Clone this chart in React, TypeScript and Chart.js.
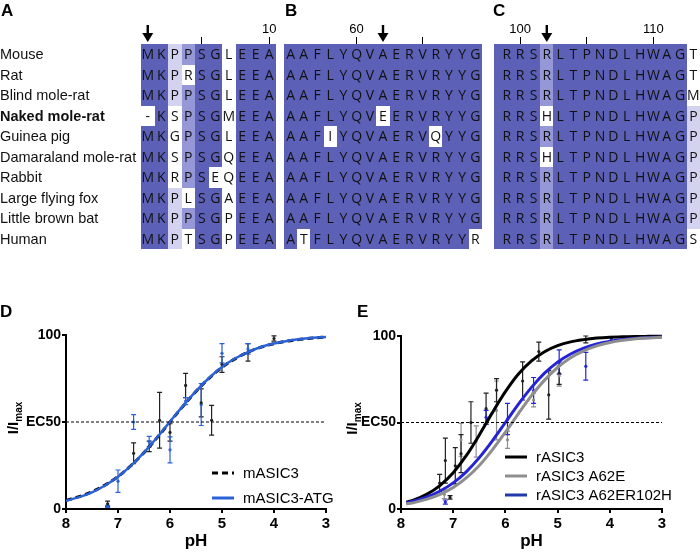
import React, { useEffect, useRef } from "react";
import { Chart, registerables } from "chart.js";
Chart.register(...registerables);

const SANS = '"Liberation Sans", Arial, Helvetica, sans-serif';
const SEQ = '"Open Sans", "Liberation Sans", sans-serif';

const DARK = "#5c60b6";
const MED = "#9597d6";
const LIGHT = "#d3d3ef";

// ---------- Alignment data ----------
const species = [
  "Mouse", "Rat", "Blind mole-rat", "Naked mole-rat", "Guinea pig",
  "Damaraland mole-rat", "Rabbit", "Large flying fox", "Little brown bat", "Human",
];
const boldSpecies = ["Naked mole-rat"];

const startA = 1;
const seqA = ["MKPPSGLEEA", "MKPRSGLEEA", "MKPPSGLEEA", "-KSPSGMEEA", "MKGPSGLEEA", "MKSPSGQEEA", "MKRPSEQEEA", "MKPLSGAEEA", "MKPPSGPEEA", "MKPTSGPEEA"];
const shadeA = ["DDLMDDWDDD", "DDLWDDWDDD", "DDLMDDWDDD", "WDWMDDWDDD", "DDWMDDWDDD", "DDWMDDWDDD", "DDWMDWWDDD", "DDLWDDWDDD", "DDLMDDWDDD", "DDLWDDWDDD"];
const ticksA = [5, 10];
const tickLabelsA = [10];
const arrowA = 1;

const startB = 55;
const seqB = ["AAFLYQVAERVRYYG", "AAFLYQVAERVRYYG", "AAFLYQVAERVRYYG", "AAFLYQVEERVRYYG", "AAFIYQVAERVQYYG", "AAFLYQVAERVRYYG", "AAFLYQVAERVRYYG", "AAFLYQVAERVRYYG", "AAFLYQVAERVRYYG", "ATFLYQVAERVRYYR"];
const shadeB = ["DDDDDDDDDDDDDDD", "DDDDDDDDDDDDDDD", "DDDDDDDDDDDDDDD", "DDDDDDDWDDDDDDD", "DDDWDDDDDDDWDDD", "DDDDDDDDDDDDDDD", "DDDDDDDDDDDDDDD", "DDDDDDDDDDDDDDD", "DDDDDDDDDDDDDDD", "DWDDDDDDDDDDDDW"];
const ticksB = [60, 65];
const tickLabelsB = [60];
const arrowB = 62;

const startC = 99;
const seqC = ["RRSRLTPNDLHWAGT", "RRSRLTPNDLHWAGT", "RRSRLTPNDLHWAGM", "RRSHLTPNDLHWAGP", "RRSRLTPNDLHWAGP", "RRSHLTPNDLHWAGP", "RRSRLTPNDLHWAGP", "RRSRLTPNDLHWAGP", "RRSRLTPNDLHWAGP", "RRSRLTPNDLHWAGS"];
const shadeC = ["DDDMDDDDDDDDDDW", "DDDMDDDDDDDDDDW", "DDDMDDDDDDDDDDW", "DDDWDDDDDDDDDDL", "DDDMDDDDDDDDDDL", "DDDWDDDDDDDDDDL", "DDDMDDDDDDDDDDL", "DDDMDDDDDDDDDDL", "DDDMDDDDDDDDDDL", "DDDMDDDDDDDDDDW"];
const ticksC = [100, 105, 110];
const tickLabelsC = [100, 110];
const arrowC = 102;

// ---------- Dose-response data ----------
const phTicks = [8, 7, 6, 5, 4, 3];
const yTicks = [0, 50, 100];
const yTickLabels = ["0", "EC50", "100"];
const ec50 = 50;

// Panel D fitted curves
const phGridD = [8, 7.75, 7.5, 7.25, 7, 6.75, 6.5, 6.25, 6, 5.75, 5.5, 5.25, 5, 4.75, 4.5, 4.25, 4, 3.75, 3.5, 3.25, 3];
const fitMASIC3 = [5.0, 7.1, 9.9, 13.7, 18.6, 24.9, 32.4, 40.9, 50.0, 59.1, 67.6, 75.1, 81.4, 86.3, 90.1, 93.0, 95.0, 96.5, 97.5, 98.3, 98.8];
const fitMASIC3ATG = [4.7, 6.8, 9.6, 13.5, 18.5, 24.9, 32.5, 41.1, 50.2, 59.3, 67.8, 75.3, 81.6, 86.5, 90.2, 93.1, 95.1, 96.6, 97.6, 98.4, 98.9];

// Panel D measured points (mean ± error)
const phMASIC3 = [7.2, 6.7, 6.4, 6.2, 6.0, 5.7, 5.4, 5.2, 5.0, 4.5, 4.0];
const meanMASIC3 = [3, 32, 36, 51, 44, 71, 61, 51, 83, 90, 98];
const errMASIC3 = [1.5, 6, 3, 16, 5, 7, 8, 8.5, 4.5, 5, 1.5];
const phMASIC3ATG = [7.2, 7.0, 6.7, 6.4, 6.0, 5.7, 5.4, 5.0, 4.5];
const meanMASIC3ATG = [1.5, 16, 50, 38.7, 34, 62, 60, 89.5, 92];
const errMASIC3ATG = [0.6, 6.4, 4.2, 3, 7.5, 2, 12, 5.5, 3];

// Panel E fitted curves
const phGridE = [7.9, 7.75, 7.5, 7.25, 7, 6.75, 6.5, 6.25, 6, 5.75, 5.5, 5.25, 5, 4.75, 4.5, 4.25, 4, 3.75, 3.5, 3.25, 3];
const fitRASIC3 = [4.0, 5.3, 8.6, 13.7, 21.0, 30.8, 42.8, 55.7, 67.8, 78.0, 85.6, 90.9, 94.4, 96.6, 97.9, 98.8, 99.3, 99.5, 99.7, 99.8, 99.9];
const fitA62E = [2.9, 3.7, 5.7, 8.4, 12.4, 18.0, 25.2, 34.2, 44.4, 55.2, 65.5, 74.5, 81.8, 87.4, 91.4, 94.3, 96.2, 97.5, 98.4, 98.9, 99.3];
const fitA62ER102H = [3.6, 4.6, 7.0, 10.4, 15.1, 21.5, 29.7, 39.4, 50.0, 60.6, 70.3, 78.5, 84.9, 89.6, 93.0, 95.4, 96.9, 98.0, 98.7, 99.1, 99.4];

// Panel E measured points
const phRASIC3 = [7.26, 7.15, 7.06, 6.96, 6.85, 6.66, 6.37, 6.17, 5.67, 5.36, 5.17, 4.97, 4.46];
const meanRASIC3 = [15, 28, 6.7, 25, 32, 50, 58, 68.7, 74, 91, 66, 78.5, 98];
const errRASIC3 = [5, 13, 1, 10.5, 11, 12, 9, 6.7, 11, 5.5, 14, 6.5, 2];
const phA62E = [7.17, 6.85, 6.56, 6.17, 5.96, 5.46, 4.97];
const meanA62E = [8.5, 40, 39, 57, 40, 63, 77];
const errA62E = [2.5, 9.5, 9, 17, 5, 4, 6];
const phA62ER102H = [7.15, 6.37, 5.96, 5.46, 4.97, 4.46, 3.97];
const meanA62ER102H = [4, 53, 52, 68.5, 85, 82.5, 98.5];
const errA62ER102H = [1.2, 4, 9, 7.5, 7, 8, 1];

const toXY = (xs: number[], ys: number[]) => xs.map((x, i) => ({ x, y: ys[i] }));

// ---------- Alignment chart ----------
type AlignCfg = {
  letter: string;
  letterX: number;
  start: number;
  seqs: string[];
  shades: string[];
  ticks: number[];
  tickLabels: number[];
  arrow: number;
  showSpecies: boolean;
};

function alignmentPlugin(cfg: AlignCfg) {
  return {
    id: "alignment",
    beforeDatasetsDraw(chart: any) {
      const ctx = chart.ctx;
      const xs = chart.scales.x;
      const ys = chart.scales.y;
      ctx.save();
      cfg.shades.forEach((row, r) => {
        const y0 = Math.round(ys.getPixelForValue(r + 0.5));
        const y1 = Math.round(ys.getPixelForValue(r + 1.5));
        for (let c = 0; c < row.length; c++) {
          const res = cfg.start + c;
          const x0 = Math.round(c === 0 ? xs.left : xs.getPixelForValue(res - 0.5));
          const x1 = Math.round(xs.getPixelForValue(res + 0.5));
          const s = row[c];
          const col = s === "D" ? DARK : s === "M" ? MED : s === "L" ? LIGHT : null;
          if (col) {
            ctx.fillStyle = col;
            ctx.fillRect(x0, y0, x1 - x0, y1 - y0);
          }
        }
      });
      ctx.fillStyle = "#111";
      ctx.font = `14px ${SEQ}`;
      ctx.textAlign = "center";
      ctx.textBaseline = "middle";
      cfg.seqs.forEach((seq, r) => {
        const y = ys.getPixelForValue(r + 1) + 1;
        for (let c = 0; c < seq.length; c++) {
          ctx.fillText(seq[c], xs.getPixelForValue(cfg.start + c), y);
        }
      });
      if (cfg.showSpecies) {
        ctx.textAlign = "left";
        species.forEach((sp, r) => {
          ctx.font = `${boldSpecies.includes(sp) ? "bold " : ""}14.5px ${SANS}`;
          ctx.fillText(sp, 0, ys.getPixelForValue(r + 1) + 1);
        });
      }
      // arrow
      const ax = xs.getPixelForValue(cfg.arrow);
      ctx.fillStyle = "#000";
      ctx.fillRect(ax - 1.2, 25, 2.4, 10);
      ctx.beginPath();
      ctx.moveTo(ax - 5.5, 33);
      ctx.lineTo(ax + 5.5, 33);
      ctx.lineTo(ax, 42);
      ctx.closePath();
      ctx.fill();
      // panel letter
      ctx.font = `bold 17px ${SANS}`;
      ctx.textAlign = "left";
      ctx.textBaseline = "alphabetic";
      ctx.fillText(cfg.letter, cfg.letterX, 16);
      ctx.restore();
    },
  };
}

function makeAlignChart(canvas: HTMLCanvasElement, cfg: AlignCfg, lay: { left: number; right: number; min: number; max: number }) {
  return new Chart(canvas, {
    type: "scatter",
    data: { datasets: [] },
    options: {
      animation: false,
      responsive: false,
      events: [],
      layout: { padding: { left: lay.left, right: lay.right, top: 0, bottom: 11 } },
      plugins: { legend: { display: false }, tooltip: { enabled: false } },
      scales: {
        x: {
          type: "linear",
          position: "top",
          min: lay.min,
          max: lay.max,
          afterFit: (s: any) => { s.height = 44; },
          afterBuildTicks: (s: any) => { s.ticks = cfg.ticks.map((v) => ({ value: v })); },
          ticks: {
            autoSkip: false, maxRotation: 0, minRotation: 0, padding: 0, color: "#000",
            font: { family: SANS, size: 13 },
            callback: (v: any) => (cfg.tickLabels.includes(Number(v)) ? String(v) : ""),
          },
          grid: { display: true, drawOnChartArea: false, drawTicks: true, tickLength: 7, color: "#000", lineWidth: 1 },
          border: { display: false },
        },
        y: { type: "linear", display: false, min: 0.5, max: 10.5, reverse: true },
      },
    } as any,
    plugins: [alignmentPlugin(cfg)],
  });
}

// ---------- Dose-response chart ----------
const errorBarPlugin = {
  id: "errbars",
  beforeDatasetsDraw(chart: any) {
    const ctx = chart.ctx;
    const ys = chart.scales.y;
    chart.data.datasets.forEach((ds: any, i: number) => {
      if (!ds.errs) return;
      const meta = chart.getDatasetMeta(i);
      ctx.save();
      ctx.strokeStyle = ds.borderColor;
      ctx.lineWidth = 1.2;
      meta.data.forEach((pt: any, j: number) => {
        const v = ds.data[j].y;
        const e = ds.errs[j];
        const yT = ys.getPixelForValue(v + e);
        const yB = ys.getPixelForValue(v - e);
        ctx.beginPath();
        ctx.moveTo(pt.x, yT); ctx.lineTo(pt.x, yB);
        ctx.moveTo(pt.x - 2.5, yT); ctx.lineTo(pt.x + 2.5, yT);
        ctx.moveTo(pt.x - 2.5, yB); ctx.lineTo(pt.x + 2.5, yB);
        ctx.stroke();
      });
      ctx.restore();
    });
  },
};

type LegendItem = { label: string; color: string; dash?: number[] };
type CurveCfg = {
  letter: string; letterX: number; titleX: number;
  yAxisW: number; padTop: number; padRight: number; xAxisH: number;
  legend: LegendItem[]; legX: number; legY: number; legGap: number;
};

function decorPlugin(cfg: CurveCfg) {
  return {
    id: "decor",
    afterDraw(chart: any) {
      const ctx = chart.ctx;
      const a = chart.chartArea;
      ctx.save();
      ctx.fillStyle = "#000";
      // panel letter
      ctx.font = `bold 17px ${SANS}`;
      ctx.textAlign = "left";
      ctx.textBaseline = "alphabetic";
      ctx.fillText(cfg.letter, cfg.letterX, 27);
      // x title
      ctx.font = `bold 17px ${SANS}`;
      ctx.textAlign = "center";
      ctx.textBaseline = "middle";
      ctx.fillText("pH", (a.left + a.right) / 2, a.bottom + 32);
      // y title with subscript
      ctx.translate(cfg.titleX, (a.top + a.bottom) / 2 - 4);
      ctx.rotate(-Math.PI / 2);
      const big = `bold 15px ${SANS}`;
      const small = `bold 10px ${SANS}`;
      ctx.font = big;
      const w1 = ctx.measureText("I/I").width;
      ctx.font = small;
      const w2 = ctx.measureText("max").width;
      const x0 = -(w1 + w2) / 2;
      ctx.textAlign = "left";
      ctx.textBaseline = "alphabetic";
      ctx.font = big;
      ctx.fillText("I/I", x0, 5);
      ctx.font = small;
      ctx.fillText("max", x0 + w1, 8.5);
      ctx.restore();
      // legend
      ctx.save();
      cfg.legend.forEach((it, i) => {
        const y = cfg.legY + i * cfg.legGap;
        ctx.strokeStyle = it.color;
        ctx.lineWidth = 3;
        ctx.setLineDash(it.dash || []);
        ctx.beginPath();
        ctx.moveTo(cfg.legX, y);
        ctx.lineTo(cfg.legX + 22, y);
        ctx.stroke();
        ctx.setLineDash([]);
        ctx.fillStyle = "#000";
        ctx.font = `15px ${SANS}`;
        ctx.textAlign = "left";
        ctx.textBaseline = "middle";
        ctx.fillText(it.label, cfg.legX + 31, y + 1);
      });
      ctx.restore();
    },
  };
}

function makeCurveChart(canvas: HTMLCanvasElement, datasets: any[], cfg: CurveCfg) {
  const axisCommon = {
    grid: { display: true, drawOnChartArea: false, drawTicks: true, tickLength: 4, color: "#000", lineWidth: 2 },
    border: { display: true, color: "#000", width: 2 },
  };
  return new Chart(canvas, {
    type: "scatter",
    data: { datasets },
    options: {
      animation: false,
      responsive: false,
      events: [],
      layout: { padding: { left: 0, right: cfg.padRight, top: cfg.padTop, bottom: 0 } },
      plugins: { legend: { display: false }, tooltip: { enabled: false } },
      scales: {
        x: {
          type: "linear", reverse: true, min: 3, max: 8,
          afterFit: (s: any) => { s.height = cfg.xAxisH; },
          afterBuildTicks: (s: any) => { s.ticks = phTicks.map((v) => ({ value: v })); },
          ticks: { color: "#000", font: { family: SANS, size: 15, weight: "bold" }, padding: 2, maxRotation: 0, autoSkip: false },
          ...axisCommon,
        },
        y: {
          type: "linear", min: 0, max: 100,
          afterFit: (s: any) => { s.width = cfg.yAxisW; },
          afterBuildTicks: (s: any) => { s.ticks = yTicks.map((v) => ({ value: v })); },
          ticks: {
            color: "#000", font: { family: SANS, size: 14, weight: "bold" }, padding: 1, autoSkip: false,
            callback: (v: any) => yTickLabels[yTicks.indexOf(Number(v))],
          },
          ...axisCommon,
        },
      },
    } as any,
    plugins: [errorBarPlugin, decorPlugin(cfg)],
  });
}

const curve = (label: string, xs: number[], ys: number[], color: string, width: number, dash?: number[]) => ({
  label, data: toXY(xs, ys), showLine: true, borderColor: color, backgroundColor: color,
  borderWidth: width, borderDash: dash || [], pointRadius: 0, cubicInterpolationMode: "monotone", clip: 6,
});
const points = (label: string, xs: number[], ys: number[], errs: number[], color: string) => ({
  label, data: toXY(xs, ys), errs, showLine: false, borderColor: color, backgroundColor: color,
  pointRadius: 1.6, pointBorderWidth: 0, clip: 6,
});
const ec50Line = () => ({
  label: "EC50", data: toXY([8, 3], [ec50, ec50]), showLine: true, borderColor: "#000",
  borderWidth: 1, borderDash: [3, 2], pointRadius: 0,
});

const BLUE_D = "#2a62d8";
const BLUE_E = "#2424d6";
const GREY = "#8e8e8e";

export default function App() {
  const refA = useRef<HTMLCanvasElement>(null);
  const refB = useRef<HTMLCanvasElement>(null);
  const refC = useRef<HTMLCanvasElement>(null);
  const refD = useRef<HTMLCanvasElement>(null);
  const refE = useRef<HTMLCanvasElement>(null);

  useEffect(() => {
    const charts: Chart[] = [];
    charts.push(makeAlignChart(refA.current!, {
      letter: "A", letterX: 1, start: startA, seqs: seqA, shades: shadeA,
      ticks: ticksA, tickLabels: tickLabelsA, arrow: arrowA, showSpecies: true,
    }, { left: 141, right: 4, min: 0.5, max: 10.5 }));
    charts.push(makeAlignChart(refB.current!, {
      letter: "B", letterX: 5, start: startB, seqs: seqB, shades: shadeB,
      ticks: ticksB, tickLabels: tickLabelsB, arrow: arrowB, showSpecies: false,
    }, { left: 4, right: 3, min: 54.5, max: 69.5 }));
    charts.push(makeAlignChart(refC.current!, {
      letter: "C", letterX: 8, start: startC, seqs: seqC, shades: shadeC,
      ticks: ticksC, tickLabels: tickLabelsC, arrow: arrowC, showSpecies: false,
    }, { left: 8.5, right: 0, min: 98, max: 113.5 }));

    charts.push(makeCurveChart(refD.current!, [
      ec50Line(),
      curve("mASIC3-ATG", phGridD, fitMASIC3ATG, BLUE_D, 2.5),
      curve("mASIC3", phGridD, fitMASIC3, "#000", 3, [6, 4]),
      points("mASIC3 data", phMASIC3, meanMASIC3, errMASIC3, "#222"),
      points("mASIC3-ATG data", phMASIC3ATG, meanMASIC3ATG, errMASIC3ATG, BLUE_D),
    ], {
      letter: "D", letterX: 0, titleX: 13, yAxisW: 66, padTop: 45, padRight: 19, xAxisH: 43,
      legend: [
        { label: "mASIC3", color: "#000", dash: [6, 4] },
        { label: "mASIC3-ATG", color: BLUE_D },
      ],
      legX: 212, legY: 183, legGap: 25,
    }));

    charts.push(makeCurveChart(refE.current!, [
      ec50Line(),
      curve("rASIC3 A62E", phGridE, fitA62E, GREY, 3),
      curve("rASIC3 A62ER102H", phGridE, fitA62ER102H, BLUE_E, 3),
      curve("rASIC3", phGridE, fitRASIC3, "#000", 3),
      points("rASIC3 A62E data", phA62E, meanA62E, errA62E, GREY),
      points("rASIC3 data", phRASIC3, meanRASIC3, errRASIC3, "#222"),
      points("rASIC3 A62ER102H data", phA62ER102H, meanA62ER102H, errA62ER102H, BLUE_E),
    ], {
      letter: "E", letterX: 12, titleX: 7, yAxisW: 56, padTop: 46, padRight: 38, xAxisH: 43,
      legend: [
        { label: "rASIC3", color: "#000" },
        { label: "rASIC3 A62E", color: GREY },
        { label: "rASIC3 A62ER102H", color: "#1f3aa8" },
      ],
      legX: 160, legY: 167, legGap: 19,
    }));

    return () => charts.forEach((c) => c.destroy());
  }, []);

  const abs = (left: number, top: number) => ({ position: "absolute" as const, left, top, display: "block" });
  return (
    <div style={{ position: "fixed", left: 0, top: 0, width: 700, height: 552, background: "#fff", overflow: "hidden" }}>
      <canvas ref={refA} width={280} height={260} style={abs(0, 0)} />
      <canvas ref={refB} width={205} height={260} style={abs(280, 0)} />
      <canvas ref={refC} width={215} height={260} style={abs(485, 0)} />
      <canvas ref={refD} width={345} height={262} style={abs(0, 290)} />
      <canvas ref={refE} width={355} height={262} style={abs(345, 290)} />
    </div>
  );
}
